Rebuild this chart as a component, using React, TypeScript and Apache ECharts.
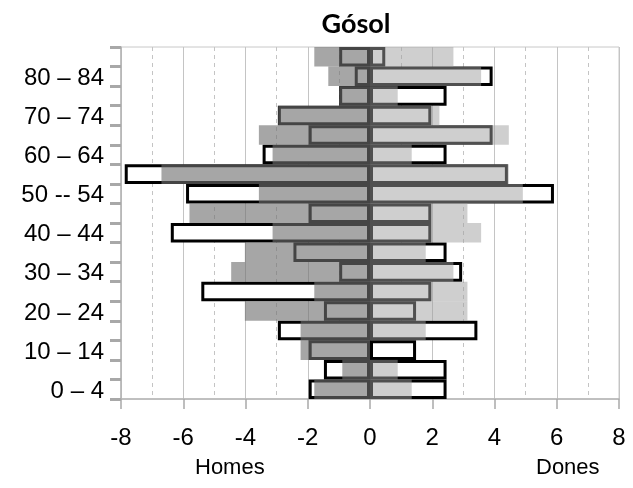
import React, { useEffect, useRef } from "react";
import * as echarts from "echarts";

const ageGroups = [
  "0 – 4", "5 – 9", "10 – 14", "15 – 19", "20 – 24", "25 – 29",
  "30 – 34", "35 – 39", "40 – 44", "45 – 49", "50 -- 54", "55 – 59",
  "60 – 64", "65 – 69", "70 – 74", "75 – 79", "80 – 84", "85 +",
];

// Outlined bars (earlier census)
const menOutline = [
  -1.97, -1.48, -1.97, -2.96, -1.48, -5.42, -0.99, -2.46, -6.4, -1.97,
  -5.91, -7.88, -3.45, -1.97, -2.96, -0.99, -0.49, -0.99,
];
const womenOutline = [
  2.46, 2.46, 1.48, 3.45, 1.48, 1.97, 2.96, 2.46, 1.97, 1.97,
  5.91, 4.43, 2.46, 3.94, 1.97, 2.46, 3.94, 0.49,
];

// Filled grey bars (later census)
const menFilled = [
  -1.79, -0.89, -2.23, -2.23, -4.02, -1.79, -4.46, -4.02, -3.13, -5.8,
  -3.57, -6.7, -3.13, -3.57, -2.95, -0.98, -1.34, -1.79,
];
const womenFilled = [
  1.34, 0.89, 0, 1.79, 3.13, 3.13, 2.68, 1.79, 3.57, 3.13,
  4.91, 4.46, 1.34, 4.46, 2.23, 0.89, 3.57, 2.68,
];

const xTicks = { min: -8, max: 8, step: 2 };

export default function App() {
  const ref = useRef<HTMLDivElement>(null);
  useEffect(() => {
    if (!ref.current) return;
    const chart = echarts.init(ref.current, undefined, { renderer: "svg" });
    const outlineStyle = { color: "#ffffff", borderColor: "#000000", borderWidth: 3 };
    chart.setOption({
      animation: false,
      textStyle: { fontFamily: "Liberation Sans, Arial, sans-serif" },
      title: {
        text: "Gósol",
        left: 351,
        textAlign: "center",
        top: 4,
        textStyle: { fontFamily: "Lato, sans-serif", fontWeight: "bold", fontSize: 27, color: "#000" },
      },
      grid: {
        left: 121,
        right: 14,
        top: 47,
        bottom: 89,
        show: true,
        borderColor: "#c8c8c8",
        borderWidth: 1,
        containLabel: false,
      },
      xAxis: {
        type: "value",
        min: xTicks.min,
        max: xTicks.max,
        interval: xTicks.step,
        axisLine: { show: true, onZero: false, lineStyle: { color: "#b4b4b4", width: 1.5 } },
        axisTick: { show: true, length: 10, lineStyle: { color: "#a8a8a8", width: 1.5 } },
        axisLabel: { fontSize: 24, color: "#000", margin: 25, fontFamily: "Liberation Sans, Arial, sans-serif" },
        splitLine: { show: true, lineStyle: { color: "#c4c4c4", width: 1 } },
        minorTick: { show: false, splitNumber: 2 },
        minorSplitLine: { show: true, lineStyle: { color: "#c4c4c4", width: 1, type: [4, 4] } },
      },
      yAxis: {
        type: "category",
        data: ageGroups,
        axisLine: { show: true, onZero: false, lineStyle: { color: "#b4b4b4", width: 1.5 } },
        axisTick: { show: true, length: 11, interval: 0, alignWithLabel: false, lineStyle: { color: "#a8a8a8", width: 3 } },
        axisLabel: { interval: 1, fontSize: 24, color: "#000", margin: 17, fontFamily: "Liberation Sans, Arial, sans-serif" },
        splitLine: { show: false },
      },
      graphic: [
        { type: "text", left: 195, top: 455, style: { text: "Homes", fontSize: 22, fill: "#000", fontFamily: "Liberation Sans, Arial, sans-serif" } },
        { type: "text", left: 536, top: 455, style: { text: "Dones", fontSize: 22, fill: "#000", fontFamily: "Liberation Sans, Arial, sans-serif" } },
      ],
      series: [
        { name: "Homes (contorn)", type: "bar", data: menOutline, barGap: "-100%", barCategoryGap: "0%", itemStyle: outlineStyle, z: 2 },
        { name: "Dones (contorn)", type: "bar", data: womenOutline, barGap: "-100%", barCategoryGap: "0%", itemStyle: outlineStyle, z: 2 },
        { name: "Homes", type: "bar", data: menFilled, barGap: "-100%", barCategoryGap: "0%", itemStyle: { color: "rgb(112,112,112)", opacity: 0.62 }, z: 3 },
        { name: "Dones", type: "bar", data: womenFilled, barGap: "-100%", barCategoryGap: "0%", itemStyle: { color: "rgb(160,160,160)", opacity: 0.5 }, z: 3 },
      ],
    });
    return () => chart.dispose();
  }, []);
  return <div ref={ref} style={{ position: "fixed", left: 0, top: 0, width: 633, height: 488 }} />;
}
